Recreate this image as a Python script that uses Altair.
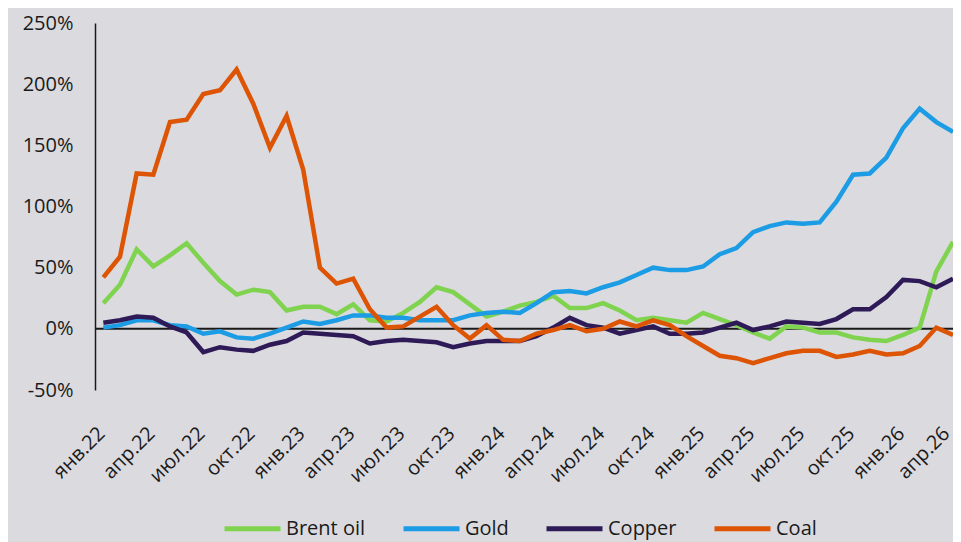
import altair as alt
import pandas as pd

months = [
    "янв.22", "фев.22", "мар.22", "апр.22", "май.22", "июн.22", "июл.22", "авг.22", "сен.22", "окт.22", "ноя.22", "дек.22",
    "янв.23", "фев.23", "мар.23", "апр.23", "май.23", "июн.23", "июл.23", "авг.23", "сен.23", "окт.23", "ноя.23", "дек.23",
    "янв.24", "фев.24", "мар.24", "апр.24", "май.24", "июн.24", "июл.24", "авг.24", "сен.24", "окт.24", "ноя.24", "дек.24",
    "янв.25", "фев.25", "мар.25", "апр.25", "май.25", "июн.25", "июл.25", "авг.25", "сен.25", "окт.25", "ноя.25", "дек.25",
    "янв.26", "фев.26", "мар.26", "апр.26",
]

brent = [21, 36, 65, 51, 60, 70, 54, 39, 28, 32, 30, 15,
         18, 18, 12, 20, 7, 6, 13, 22, 34, 30, 20, 10,
         14, 19, 22, 27, 17, 17, 21, 15, 7, 9, 7, 5,
         13, 8, 3, -3, -8, 2, 1, -3, -3, -7, -9, -10,
         -5, 1, 47, 71]
gold = [1, 3, 7, 7, 3, 2, -4, -2, -7, -8, -4, 1,
        6, 4, 7, 11, 11, 9, 9, 7, 7, 7, 11, 13,
        14, 13, 21, 30, 31, 29, 34, 38, 44, 50, 48, 48,
        51, 61, 66, 79, 84, 87, 86, 87, 104, 126, 127, 140,
        164, 180, 169, 161]
copper = [5, 7, 10, 9, 2, -3, -19, -15, -17, -18, -13, -10,
          -3, -4, -5, -6, -12, -10, -9, -10, -11, -15, -12, -10,
          -10, -10, -6, 1, 9, 3, 1, -4, -1, 2, -4, -4,
          -3, 1, 5, -1, 2, 6, 5, 4, 8, 16, 16, 26,
          40, 39, 34, 41]
coal = [42, 59, 127, 126, 169, 171, 192, 195, 212, 184, 148, 174,
        130, 50, 37, 41, 16, 1, 2, 10, 18, 3, -8, 3,
        -9, -10, -4, -1, 3, -2, 0, 6, 2, 7, 3, -6,
        -14, -22, -24, -28, -24, -20, -18, -18, -23, -21, -18, -21,
        -20, -14, 1, -5]

names = ["Brent oil", "Gold", "Copper", "Coal"]
colors = ["#7fd34e", "#1c9ce5", "#2e1a56", "#dc5404"]
y_ticks = [-50, 0, 50, 100, 150, 200, 250]

rows = []
for name, vals in zip(names, [brent, gold, copper, coal]):
    for i, v in enumerate(vals):
        rows.append({"idx": i, "value": v, "series": name})
df = pd.DataFrame(rows)

FONT = "Open Sans"
label_arr = "[" + ",".join("'" + m + "'" for m in months) + "]"

x_enc = alt.X(
    "idx:Q",
    scale=alt.Scale(domain=[-0.5, 51], nice=False, zero=False),
    axis=alt.Axis(
        values=list(range(0, len(months), 3)),
        labelExpr=label_arr + "[datum.value]",
        labelAngle=-45, labelAlign="right", labelBaseline="top",
        labelOffset={"condition": {"test": "datum.value >= 51", "value": -14}, "value": -9},
        labelPadding=33,
        labelOverlap=False, labelBound=False, labelFlush=False,
        labelFontSize=20, labelFont=FONT, labelColor="#1a1a1a",
        domain=False, ticks=False, grid=False, title=None,
    ),
)
y_enc = alt.Y(
    "value:Q",
    scale=alt.Scale(domain=[-50, 250], nice=False, zero=False),
    axis=alt.Axis(
        values=y_ticks,
        labelExpr="datum.value + '%'",
        labelFontSize=20, labelFont=FONT, labelColor="#1a1a1a",
        labelPadding=22, labelOverlap=False,
        domain=True, domainColor="#1a1a1a", domainWidth=1.5,
        ticks=False, grid=False, title=None,
    ),
)
color_enc = alt.Color(
    "series:N",
    scale=alt.Scale(domain=names, range=colors),
    legend=alt.Legend(
        title=None, orient="none", direction="horizontal", columns=4,
        legendX=127, legendY=475,
        symbolType="stroke", symbolSize=3136, symbolStrokeWidth=5,
        labelFontSize=20, labelFont=FONT, labelColor="#1a1a1a",
        labelOffset=3, columnPadding=27, padding=0,
    ),
)

zero = alt.Chart(pd.DataFrame({"y": [0]})).mark_rule(
    color="#1a1a1a", strokeWidth=2
).encode(y=alt.Y("y:Q"))

base = alt.Chart(df).mark_line(strokeWidth=4.5).encode(
    x=x_enc, y=y_enc, color=color_enc
)
layers = [base.transform_filter(alt.datum.series == n) for n in names]

chart = alt.layer(zero, *layers).properties(
    width=858, height=367,
    autosize=alt.AutoSizeParams(type="none"),
    padding={"left": 87, "top": 15, "right": 0, "bottom": 152},
    background="#dbdadf",
).configure_view(strokeWidth=0)

chart.save("out.html", embed_options={"renderer": "svg", "actions": False})
